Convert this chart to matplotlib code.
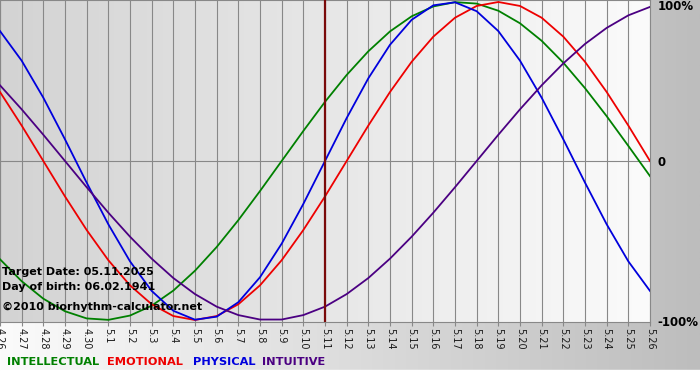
import numpy as np
import matplotlib.pyplot as plt
from matplotlib.colors import LinearSegmentedColormap

# daily biorhythm values, 4.26 .. 5.26 (-1..1)
dates = ['4.26', '4.27', '4.28', '4.29', '4.30'] + ['5.%d' % d for d in range(1, 27)]

intellectual = [-0.618, -0.756, -0.866, -0.945, -0.990, -0.999, -0.972, -0.910, -0.815, -0.690,
                -0.541, -0.372, -0.189, 0.0, 0.189, 0.372, 0.541, 0.690, 0.815, 0.910,
                0.972, 0.999, 0.990, 0.945, 0.866, 0.756, 0.618, 0.458, 0.282, 0.095, -0.095]
emotional = [0.434, 0.223, 0.0, -0.223, -0.434, -0.624, -0.782, -0.901, -0.975, -1.0,
             -0.975, -0.901, -0.782, -0.624, -0.434, -0.223, 0.0, 0.223, 0.434, 0.624,
             0.782, 0.901, 0.975, 1.0, 0.975, 0.901, 0.782, 0.624, 0.434, 0.223, 0.0]
physical = [0.817, 0.631, 0.398, 0.136, -0.136, -0.398, -0.631, -0.817, -0.942, -0.998,
            -0.979, -0.888, -0.731, -0.520, -0.270, 0.0, 0.270, 0.520, 0.731, 0.888,
            0.979, 0.998, 0.942, 0.817, 0.631, 0.398, 0.136, -0.136, -0.398, -0.631, -0.817]
intuitive = [0.476, 0.325, 0.165, 0.0, -0.165, -0.325, -0.476, -0.614, -0.736, -0.837,
             -0.916, -0.969, -0.997, -0.997, -0.969, -0.916, -0.837, -0.736, -0.614, -0.476,
             -0.325, -0.165, 0.0, 0.165, 0.325, 0.476, 0.614, 0.736, 0.837, 0.916, 0.969]

target_idx = dates.index('5.11')

series = [
    ('INTELLECTUAL', intellectual, '#008000'),
    ('EMOTIONAL', emotional, '#ee0000'),
    ('PHYSICAL', physical, '#0000dd'),
    ('INTUITIVE', intuitive, '#4b0082'),
]

W, H = 700, 380
fig = plt.figure(figsize=(7, 3.8), dpi=100)

# figure background: horizontal gradient white -> gray
grad = np.linspace(0, 1, 256).reshape(1, -1)
bg = fig.add_axes([0, 0, 1, 1], zorder=-10)
bg.imshow(grad, aspect='auto', extent=[0, 1, 0, 1],
          cmap=LinearSegmentedColormap.from_list('fbg', ['#fbfbfb', '#bdbdbd']))
bg.axhspan(0, 10 / H, color='white')
bg.set_xlim(0, 1)
bg.set_ylim(0, 1)
bg.axis('off')

ax = fig.add_axes([0, 58 / H, 650 / W, 322 / H])
x = np.arange(len(dates))
ylim = 1.0125
ax.imshow(grad, aspect='auto', extent=[0, len(dates) - 1, -ylim, ylim], zorder=0,
          cmap=LinearSegmentedColormap.from_list('abg', ['#d3d3d3', '#fbfbfb']))

ax.set_xticks(x)
ax.set_xticklabels(dates)
ax.grid(axis='x', color='#888888', lw=0.8, zorder=1)
ax.axhline(0, color='#888888', lw=0.8, zorder=1)
ax.axvline(target_idx, color='#7a0a0a', lw=1.6, zorder=4)

for name, vals, col in series:
    ax.plot(x, vals, color=col, lw=1.3, zorder=3)

ax.set_xlim(0, len(dates) - 1)
ax.set_ylim(-ylim, ylim)
ax.set_yticks([])
ax.tick_params(axis='x', length=3, color='#888888', labelsize=7,
               labelrotation=270, pad=1, labelcolor='#1a1a1a')
for s in ax.spines.values():
    s.set_color('#888888')
    s.set_linewidth(0.8)

# right-hand scale labels
fig.text(658 / W, 1 - 7 / H, '100%', va='center', weight='bold', size=8.5)
fig.text(658 / W, 1 - 162 / H, '0', va='center', weight='bold', size=8.5)
fig.text(657 / W, 1 - 322 / H, '-100%', va='center', weight='bold', size=8.5)

# info text
fig.text(2 / W, 1 - 272 / H, 'Target Date: 05.11.2025', va='center', weight='bold', size=8)
fig.text(2 / W, 1 - 287 / H, 'Day of birth: 06.02.1941', va='center', weight='bold', size=8)
fig.text(2 / W, 1 - 307 / H, '\u00a92010 biorhythm-calculator.net', va='center', weight='bold', size=8)

# legend
leg_x = [7, 107, 193, 262]
for (name, vals, col), lx in zip(series, leg_x):
    fig.text(lx / W, 1 - 362 / H, name, va='center', weight='bold', size=8.2, color=col)

fig.savefig('out.png', dpi=100)
